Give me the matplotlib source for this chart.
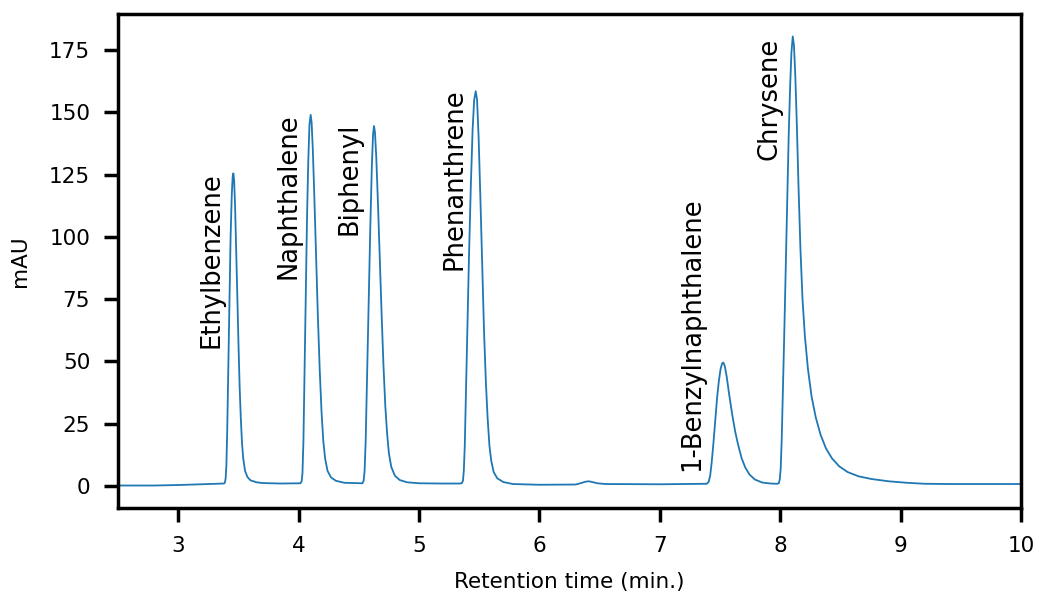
import matplotlib
matplotlib.use("Agg")
import matplotlib.pyplot as plt

# Chromatogram trace (retention time in min, absorbance in mAU)
time_min = [
    2.50, 2.80, 3.00, 3.20, 3.380,
    3.388, 3.394, 3.400, 3.407, 3.415, 3.425, 3.435, 3.445, 3.452, 3.458, 3.464,
    3.472, 3.480, 3.490, 3.500, 3.510, 3.520, 3.530, 3.540, 3.555, 3.575, 3.600,
    3.650, 3.700, 3.850, 4.015,
    4.025, 4.032, 4.040, 4.050, 4.060, 4.070, 4.080, 4.090, 4.100, 4.108, 4.118,
    4.130, 4.145, 4.160, 4.175, 4.190, 4.205, 4.220, 4.240, 4.270, 4.310, 4.380,
    4.530,
    4.540, 4.548, 4.557, 4.567, 4.580, 4.595, 4.608, 4.618, 4.626, 4.634, 4.645,
    4.660, 4.675, 4.690, 4.705, 4.720, 4.735, 4.750, 4.770, 4.800, 4.840, 4.900,
    5.000, 5.200, 5.330, 5.355,
    5.365, 5.372, 5.380, 5.390, 5.402, 5.415, 5.430, 5.445, 5.458, 5.471, 5.482,
    5.495, 5.510, 5.525, 5.540, 5.555, 5.570, 5.585, 5.600, 5.620, 5.650, 5.700,
    5.780, 6.000, 6.300,
    6.340, 6.380, 6.410, 6.440, 6.480, 6.550, 7.000, 7.390,
    7.405, 7.418, 7.430, 7.445, 7.460, 7.475, 7.490, 7.505, 7.518, 7.528, 7.540,
    7.555, 7.575, 7.600, 7.625, 7.650, 7.680, 7.710, 7.745, 7.790, 7.850, 7.920,
    7.975, 7.988,
    7.996, 8.004, 8.012, 8.022, 8.034, 8.046, 8.058, 8.070, 8.082, 8.093, 8.104,
    8.114, 8.125, 8.138, 8.152, 8.168, 8.185, 8.205, 8.230, 8.260, 8.295, 8.335,
    8.380, 8.430, 8.490, 8.560, 8.650, 8.760, 8.900, 9.050, 9.200, 9.400, 10.00,
]
absorbance_mau = [
    0.1, 0.1, 0.3, 0.6, 0.9,
    1.3, 3, 8, 22, 45, 75, 100, 117, 124, 125.5, 123,
    113, 98, 78, 58, 40, 27, 17, 11, 6, 3.5, 2.2,
    1.4, 1.1, 0.9, 1.0,
    1.8, 5, 18, 48, 80, 108, 130, 145, 149, 146, 135,
    117, 92, 68, 47, 30, 18, 11, 6, 3.3, 2, 1.2,
    1.0,
    2, 6, 18, 40, 70, 103, 128, 141, 144.5, 142, 132,
    112, 90, 68, 48, 32, 21, 13, 7.5, 4, 2.3, 1.4,
    1.0, 0.9, 0.9, 1.0,
    2, 6, 16, 38, 65, 92, 120, 143, 155, 158.5, 155,
    140, 115, 88, 62, 42, 27, 16, 10, 5.5, 3, 1.5,
    0.7, 0.4, 0.5,
    1.0, 1.6, 1.8, 1.5, 1.0, 0.7, 0.6, 0.8,
    1.5, 4, 9, 17, 26, 35, 42, 47, 49.2, 49.5, 48,
    44, 37, 29, 22, 16.5, 11, 7.3, 4.5, 2.5, 1.3, 0.9,
    0.8, 1.0,
    2.5, 7, 18, 38, 62, 88, 115, 140, 160, 174, 180.5,
    177, 165, 145, 120, 95, 75, 60, 47, 36, 27.5, 20.5,
    15, 11, 7.8, 5.5, 3.8, 2.7, 1.8, 1.2, 0.8, 0.7, 0.7,
]

# Compound labels and where they are written (data coordinates of the label's top-right corner)
compounds = ["Ethylbenzene", "Naphthalene", "Biphenyl", "Phenanthrene",
             "1-Benzylnaphthalene", "Chrysene"]
label_x = [3.382, 4.025, 4.53, 5.40, 7.375, 8.018]
label_y = [126.0, 149.5, 146.0, 159.5, 116.0, 180.0]

fig = plt.figure(figsize=(10.37, 5.96), dpi=100)
ax = fig.add_axes([0.1138, 0.1477, 0.8708, 0.8288])

ax.plot(time_min, absorbance_mau, color="#1f77b4", linewidth=1.3)

for name, x, y in zip(compounds, label_x, label_y):
    ax.text(x, y, name, rotation=90, ha="right", va="top", fontsize=18.5)

ax.set_xlim(2.5, 10)
ax.margins(y=0.05)
ax.set_xticks([3, 4, 5, 6, 7, 8, 9, 10])
ax.set_yticks([0, 25, 50, 75, 100, 125, 150, 175])
ax.set_xlabel("Retention time (min.)", fontsize=15.5, labelpad=12)
ax.set_ylabel("mAU", fontsize=15.5, labelpad=14)

for s in ax.spines.values():
    s.set_linewidth(2.5)
ax.tick_params(axis="both", which="major", length=10, width=2.5, labelsize=15.5, pad=10)

fig.savefig("out.png", dpi=100)
